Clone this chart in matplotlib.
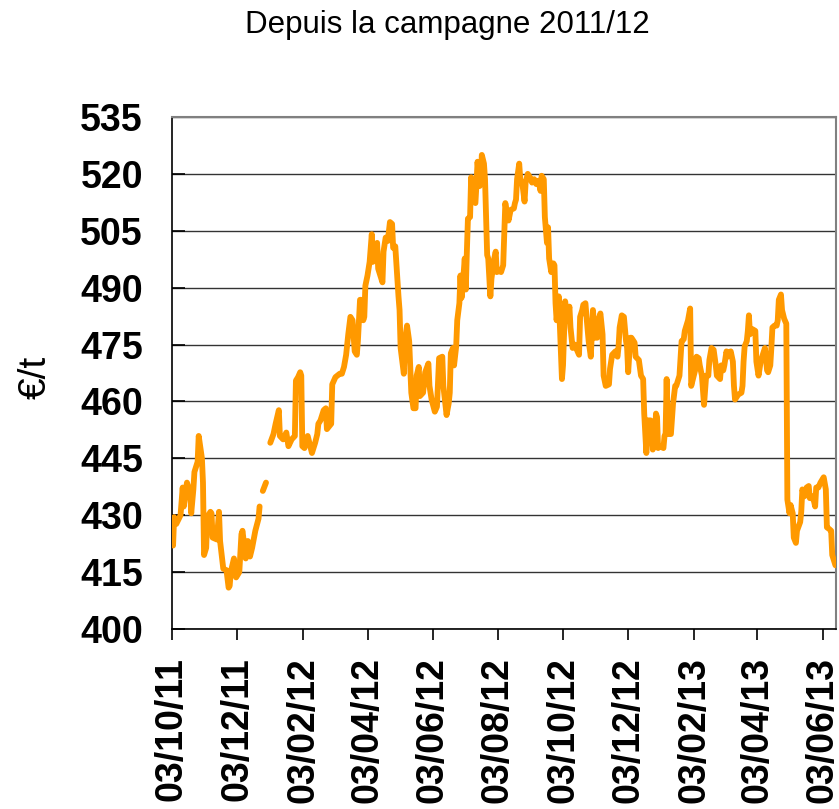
import numpy as np
import pandas as pd
import matplotlib
matplotlib.use("Agg")
import matplotlib.pyplot as plt
import matplotlib.dates as mdates

plt.rcParams['font.family'] = ['Liberation Sans', 'DejaVu Sans']

# prix (€/t) ; None = pas de cotation
dates = [
    "2011-10-03", "2011-10-04", "2011-10-05", "2011-10-07", "2011-10-11", "2011-10-13", "2011-10-14",
    "2011-10-17", "2011-10-20", "2011-10-21", "2011-10-23", "2011-10-24", "2011-10-27", "2011-10-28",
    "2011-10-31", "2011-11-01", "2011-11-02", "2011-11-04", "2011-11-05", "2011-11-08", "2011-11-09",
    "2011-11-10", "2011-11-14", "2011-11-16", "2011-11-17", "2011-11-20", "2011-11-23", "2011-11-25",
    "2011-11-26", "2011-11-27", "2011-11-30", "2011-12-02", "2011-12-05", "2011-12-07", "2011-12-08",
    "2011-12-11", "2011-12-13", "2011-12-15", "2011-12-17", "2011-12-20", "2011-12-23", "2011-12-24",
    "2011-12-25", "2011-12-27", "2011-12-30", "2012-01-01",
    "2012-01-03", "2012-01-06", "2012-01-08", "2012-01-11", "2012-01-12", "2012-01-15", "2012-01-18",
    "2012-01-20", "2012-01-23", "2012-01-26", "2012-01-27", "2012-01-29", "2012-01-31", "2012-02-01",
    "2012-02-02", "2012-02-04", "2012-02-07", "2012-02-09", "2012-02-11", "2012-02-14", "2012-02-16",
    "2012-02-17", "2012-02-19", "2012-02-22", "2012-02-24", "2012-02-25", "2012-02-29", "2012-03-01",
    "2012-03-04", "2012-03-08", "2012-03-10", "2012-03-12", "2012-03-14", "2012-03-16", "2012-03-18",
    "2012-03-20", "2012-03-22", "2012-03-24", "2012-03-25", "2012-03-27", "2012-03-28", "2012-03-30",
    "2012-03-31", "2012-04-01", "2012-04-03", "2012-04-05", "2012-04-07", "2012-04-08", "2012-04-12",
    "2012-04-13", "2012-04-16", "2012-04-17", "2012-04-18", "2012-04-20", "2012-04-22", "2012-04-24",
    "2012-04-26", "2012-04-27", "2012-04-29", "2012-05-02", "2012-05-03", "2012-05-04", "2012-05-07",
    "2012-05-08", "2012-05-10", "2012-05-12", "2012-05-14", "2012-05-16", "2012-05-18", "2012-05-19",
    "2012-05-21", "2012-05-22", "2012-05-25", "2012-05-27", "2012-05-30", "2012-05-31", "2012-06-02",
    "2012-06-05", "2012-06-07", "2012-06-09", "2012-06-12", "2012-06-13", "2012-06-16", "2012-06-18",
    "2012-06-19", "2012-06-20", "2012-06-22", "2012-06-23", "2012-06-25", "2012-06-26", "2012-06-28",
    "2012-06-29", "2012-06-30", "2012-07-01", "2012-07-03", "2012-07-04", "2012-07-05", "2012-07-06",
    "2012-07-08", "2012-07-09", "2012-07-11", "2012-07-13", "2012-07-14", "2012-07-15", "2012-07-17",
    "2012-07-18", "2012-07-19", "2012-07-21", "2012-07-22", "2012-07-24", "2012-07-25", "2012-07-27",
    "2012-07-28", "2012-07-30", "2012-08-01", "2012-08-02", "2012-08-05", "2012-08-06", "2012-08-08",
    "2012-08-10", "2012-08-11", "2012-08-13", "2012-08-15", "2012-08-18", "2012-08-19", "2012-08-20",
    "2012-08-21", "2012-08-23", "2012-08-24", "2012-08-26", "2012-08-28", "2012-08-29", "2012-08-31",
    "2012-09-02", "2012-09-04", "2012-09-06", "2012-09-08", "2012-09-10", "2012-09-12", "2012-09-13",
    "2012-09-15", "2012-09-16", "2012-09-18", "2012-09-19", "2012-09-20", "2012-09-22", "2012-09-24",
    "2012-09-25", "2012-09-26", "2012-09-27", "2012-09-29", "2012-09-30", "2012-10-02", "2012-10-03",
    "2012-10-05", "2012-10-07", "2012-10-09", "2012-10-10", "2012-10-12", "2012-10-14", "2012-10-16",
    "2012-10-18", "2012-10-19", "2012-10-21", "2012-10-22", "2012-10-24", "2012-10-25", "2012-10-27",
    "2012-10-29", "2012-10-31", "2012-11-02", "2012-11-04", "2012-11-05", "2012-11-07", "2012-11-09",
    "2012-11-10", "2012-11-12", "2012-11-15", "2012-11-16", "2012-11-18", "2012-11-21", "2012-11-23",
    "2012-11-24", "2012-11-25", "2012-11-27", "2012-11-29", "2012-12-01", "2012-12-02", "2012-12-03",
    "2012-12-05", "2012-12-06", "2012-12-09", "2012-12-10", "2012-12-13", "2012-12-15", "2012-12-17",
    "2012-12-18", "2012-12-20", "2012-12-21", "2012-12-24", "2012-12-26", "2012-12-28", "2012-12-29",
    "2012-12-30", "2012-12-31", "2013-01-02", "2013-01-05", "2013-01-06", "2013-01-07", "2013-01-08",
    "2013-01-09", "2013-01-12", "2013-01-14", "2013-01-16", "2013-01-17", "2013-01-19", "2013-01-20",
    "2013-01-22", "2013-01-24", "2013-01-25", "2013-01-27", "2013-01-28", "2013-01-30", "2013-01-31",
    "2013-02-02", "2013-02-04", "2013-02-05", "2013-02-07", "2013-02-08", "2013-02-10", "2013-02-12",
    "2013-02-14", "2013-02-16", "2013-02-17", "2013-02-19", "2013-02-21", "2013-02-23", "2013-02-24",
    "2013-02-27", "2013-02-28", "2013-03-02", "2013-03-03", "2013-03-05", "2013-03-06", "2013-03-08",
    "2013-03-09", "2013-03-11", "2013-03-12", "2013-03-13", "2013-03-16", "2013-03-19", "2013-03-20",
    "2013-03-21", "2013-03-22", "2013-03-24", "2013-03-25", "2013-03-26", "2013-03-27", "2013-03-29",
    "2013-04-01", "2013-04-02", "2013-04-04", "2013-04-06", "2013-04-08", "2013-04-10", "2013-04-12",
    "2013-04-13", "2013-04-15", "2013-04-16", "2013-04-17", "2013-04-19", "2013-04-21", "2013-04-22",
    "2013-04-23", "2013-04-25", "2013-04-26", "2013-04-28", "2013-04-30", "2013-05-01", "2013-05-03",
    "2013-05-04", "2013-05-06", "2013-05-07", "2013-05-09", "2013-05-10", "2013-05-13", "2013-05-14",
    "2013-05-15", "2013-05-17", "2013-05-19", "2013-05-21", "2013-05-22", "2013-05-24", "2013-05-26",
    "2013-05-27", "2013-05-28", "2013-05-30", "2013-06-01", "2013-06-03", "2013-06-04", "2013-06-06",
    "2013-06-07", "2013-06-09", "2013-06-11", "2013-06-12", "2013-06-14", "2013-06-15",
]

prix = [
    427, 422, 429.5, 427.7, 430, 437.3, 432.3,
    438.6, 435.9, 430.5, 436.8, 441.4, 444.1, 450.9,
    445, 438.6, 419.5, 421.4, 429.5, 430.9, 430.5,
    424.1, 423.6, 430.9, 423.2, 415.9, 415.5, 410.9,
    411.4, 415, 418.6, 413.6, 415, 425, 425.9,
    418.6, 423.2, 419.1, 421.4, 425.9, 429.1, 432.3,
    None, 436.4, 438.6, None,
    449.1, 451.4, 454.1, 457.7, 450.9, 450, 451.8,
    448.2, 450, 450.9, 465.5, 466.4, 467.7, 466.8,
    448.2, 447.7, 450.9, 448.6, 446.4, 449.1, 451.4,
    454.1, 455, 457.7, 458.2, 452.7, 454.1, 464.5,
    466.4, 467.3, 467.3, 469.1, 472.3, 477.7, 482.3,
    481.4, 473.2, 472.3, 475.9, 486.8, 486.8, 481.4,
    482.3, 490.5, 493.2, 496.8, 504.1, 496.8, 501.8,
    495, 492.3, 491.4, 499.5, 503.2, 502.3, 507.3,
    506.8, 500.5, 500.9, 487.7, 484.1, 474.1, 467.3,
    475.9, 480, 475.9, 462.3, 458.2, 458.2, 466.8,
    469.1, 461.4, 462.3, 467.7, 470, 464.1, 460.5,
    457.3, 458.6, 471.4, 471.8, 464.1, 456.4, 459.5,
    462.3, 472.7, 474.1, 469.5, 474.5, 481.4, 485.9,
    493.2, 487.3, 490, 497.7, 489.5, 499.5, 508.2,
    508.6, 519.1, 513.2, 512.3, 517.3, 523.2, 516.8,
    518.6, 525, 522.7, 518.6, 498.6, 497.7, 487.7,
    492.3, 496.8, 499.5, 494.1, 494.5, 494.1, 495.9,
    512.3, 510.5, 507.7, 510.5, 510.9, 512.3, 513.2,
    518.6, 522.7, 518.6, 517.3, 512.7, 517.7, 520,
    519.1, 517.7, 518.6, 517.3, 518.2, 515.5, 519.5,
    518.6, 508.6, 501.8, 505.9, 497.7, 494.1, 496.4,
    495.9, 485.9, 481.4, 487.7, 480.5, 465.9, 469.5,
    486.4, 481.4, 485, 479.5, 474.1, 475, 473.6,
    472.3, 482.3, 484.1, 485.5, 485.9, 482.3, 475.9,
    471.8, 484.1, 476.8, 476.8, 481.4, 483.2, 477.7,
    466.8, 464.1, 464.5, 468.6, 472.3, 473.2, 471.8,
    474.5, 479.5, 482.7, 482.3, 475.9, 474.1, 467.7,
    476.8, 476.8, 475.5, 471.8, 470.9, 466.8, 465.9,
    456.8, 446.4, 455, 455, 447.3, 449.5, 456.8,
    455.9, 447.7, 448.2, 447.7, 450.9, 451.4, 465.9,
    451.4, 451.4, 459.5, 464.1, 464.1, 465.9, 466.8,
    475.9, 476.4, 478.6, 480.5, 481.4, 484.5, 464.1,
    466.4, 468.6, 471.8, 471.4, 469.5, 466.8, 459.1,
    466.8, 466.8, 470.9, 474.1, 473.6, 469.5, 466.8,
    465.9, 469.5, 468.2, 469.5, 473.2, 471.8, 472.3,
    473.2, 470.5, 464.1, 460.5, 461.8, 462.3, 464.1,
    470.5, 474.5, 475.9, 478.6, 482.7, 477.7, 479.1,
    478.6, 470.5, 466.8, 470.5, 472.3, 474.1, 468.2,
    467.7, 469.5, 474.1, 479.5, 480, 480, 481.4,
    486.8, 488.2, 484.1, 481.8, 480.5, 434.1, 430.5,
    432.7, 430.5, 424.1, 422.7, 425.9, 428.2, 430.9,
    436.8, 435, 437.3, 437.7, 434.5, 435, 433.6,
    432.3, 437.3, 437.3, 438.6, 439.5, 440, 436.8,
    426.8, 426.4, 425.9, 419.5, 417.7, 416.8,
]

x = pd.to_datetime(dates)
y = np.array([np.nan if v is None else v for v in prix], dtype=float)

fig = plt.figure(figsize=(8.39, 8.09), dpi=100)
ax = fig.add_axes([0.205, 0.2225, 0.7914, 0.6329])

ax.plot(x, y, color='#FF9900', lw=4.2, solid_joinstyle='round', solid_capstyle='round', zorder=3)

ax.set_ylim(400, 535)
ax.set_yticks(np.arange(400, 536, 15))
ax.set_xlim(pd.Timestamp("2011-10-03"), pd.Timestamp("2013-06-15 12:00"))
ax.xaxis.set_major_locator(mdates.MonthLocator(bymonth=(2, 4, 6, 8, 10, 12), bymonthday=3))
ax.xaxis.set_major_formatter(mdates.DateFormatter('%d/%m/%y'))

ax.grid(axis='y', color='#333333', lw=1.0)
ax.set_axisbelow(True)

ax.tick_params(axis='y', direction='in', length=9, width=1.2, labelsize=27, pad=21)
ax.tick_params(axis='x', direction='out', length=8, width=1.2, labelsize=27, pad=12,
               labelrotation=90)
for lab in ax.get_xticklabels() + ax.get_yticklabels():
    lab.set_fontweight('bold')

ax.spines['left'].set_color('black')
ax.spines['bottom'].set_color('black')
ax.spines['left'].set_linewidth(1.2)
ax.spines['bottom'].set_linewidth(1.2)
ax.spines['top'].set_color('#808080')
ax.spines['right'].set_color('#808080')
ax.spines['top'].set_linewidth(1.5)
ax.spines['right'].set_linewidth(1.5)

fig.text(0.043, 0.534, "€/t", rotation=90, fontsize=28, ha='center', va='center')
fig.text(0.533, 0.959, "Depuis la campagne 2011/12", fontsize=22.5, ha='center', va='baseline')

fig.savefig("out.png", dpi=100)
